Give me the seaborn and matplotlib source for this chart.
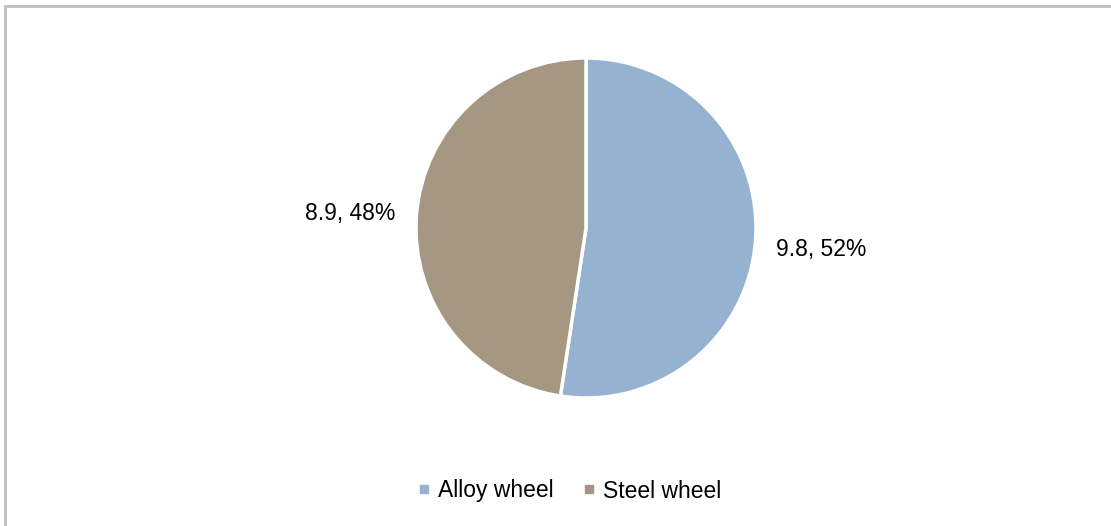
import matplotlib
matplotlib.use('Agg')
import numpy as np
import matplotlib.pyplot as plt
from matplotlib.lines import Line2D
from matplotlib.patches import Rectangle
import seaborn as sns

# Data
labels = ['Alloy wheel', 'Steel wheel']
values = [9.8, 8.9]
colors = ['#95B3D0', '#A69783']

sns.set_theme(style='white')
plt.rcParams['font.family'] = ['Liberation Sans', 'DejaVu Sans']

fig = plt.figure(figsize=(11.11, 5.26), dpi=100)

# Chart frame (only top and left edges visible)
fig.patches.append(Rectangle((4.5 / 1111, -0.1), 1.2, 1.1 - 5.5 / 526,
                             transform=fig.transFigure, fill=False,
                             edgecolor='#bfbfbf', linewidth=2, zorder=0))

ax = fig.add_axes([416 / 1111, 128 / 526, 340 / 1111, 340 / 526])
total = sum(values)
wedges = ax.pie(values, colors=colors, startangle=90, counterclock=False,
                wedgeprops=dict(edgecolor='white', linewidth=2.5))[0]
for w, v in zip(wedges, values):
    ang = np.deg2rad((w.theta1 + w.theta2) / 2)
    pct = v / total * 100
    ax.text(1.39 * np.cos(ang), 1.39 * np.sin(ang) - 0.02, f'{v:.1f}, {pct:.0f}%',
            ha='center', va='center', fontsize=16.5, color='black', clip_on=False)
ax.set_xlim(-1, 1)
ax.set_ylim(-1, 1)
ax.set_aspect('equal')
ax.axis('off')

handles = [Line2D([], [], marker='s', linestyle='none', markersize=6,
                  markerfacecolor=c, markeredgecolor=c) for c in colors]
fig.legend(handles, labels, loc='center', bbox_to_anchor=(570 / 1111, 1 - 491 / 526),
           ncol=2, frameon=False, fontsize=16.5, handlelength=0.5, handletextpad=0.35,
           columnspacing=1.3, labelcolor='black')

fig.savefig('out.png', dpi=100)
